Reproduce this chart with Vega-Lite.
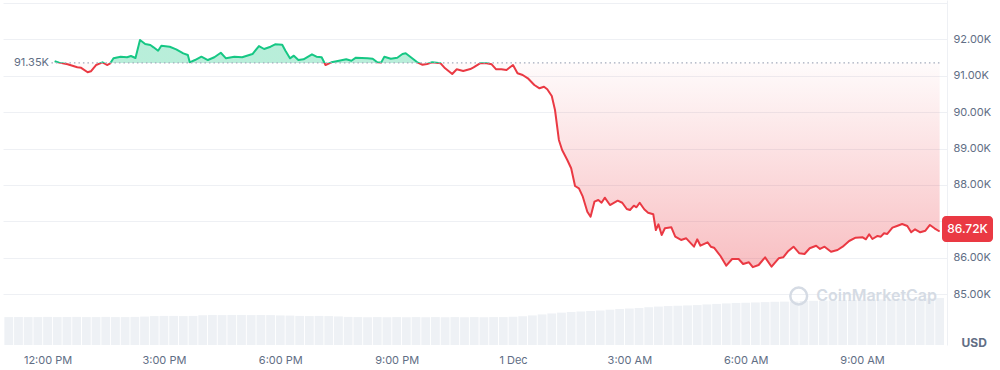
{
  "$schema": "https://vega.github.io/schema/vega-lite/v6.json",
  "width": 944,
  "height": 345,
  "autosize": {"type": "none"},
  "padding": {"left": 3, "top": 0, "right": 53, "bottom": 25},
  "background": "white",
  "config": {"view": {"stroke": null}, "font": "Inter"},
  "datasets": {
    "price": [
      {"t": "2025-11-30T12:11:00", "p": 91400}, {"t": "2025-11-30T12:18:00", "p": 91360}, {"t": "2025-11-30T12:31:00", "p": 91313},
      {"t": "2025-11-30T12:46:00", "p": 91231}, {"t": "2025-11-30T12:52:00", "p": 91216}, {"t": "2025-11-30T13:02:00", "p": 91094},
      {"t": "2025-11-30T13:07:00", "p": 91121}, {"t": "2025-11-30T13:15:00", "p": 91294}, {"t": "2025-11-30T13:25:00", "p": 91368},
      {"t": "2025-11-30T13:32:00", "p": 91294}, {"t": "2025-11-30T13:37:00", "p": 91341}, {"t": "2025-11-30T13:42:00", "p": 91478},
      {"t": "2025-11-30T13:53:00", "p": 91522}, {"t": "2025-11-30T14:03:00", "p": 91506}, {"t": "2025-11-30T14:09:00", "p": 91541},
      {"t": "2025-11-30T14:16:00", "p": 91486}, {"t": "2025-11-30T14:23:00", "p": 91980}, {"t": "2025-11-30T14:31:00", "p": 91871},
      {"t": "2025-11-30T14:39:00", "p": 91843}, {"t": "2025-11-30T14:44:00", "p": 91780}, {"t": "2025-11-30T14:51:00", "p": 91687},
      {"t": "2025-11-30T14:56:00", "p": 91824}, {"t": "2025-11-30T15:09:00", "p": 91797}, {"t": "2025-11-30T15:19:00", "p": 91725},
      {"t": "2025-11-30T15:30:00", "p": 91615}, {"t": "2025-11-30T15:37:00", "p": 91569}, {"t": "2025-11-30T15:40:00", "p": 91368},
      {"t": "2025-11-30T15:48:00", "p": 91431}, {"t": "2025-11-30T15:58:00", "p": 91522}, {"t": "2025-11-30T16:08:00", "p": 91431},
      {"t": "2025-11-30T16:18:00", "p": 91506}, {"t": "2025-11-30T16:28:00", "p": 91632}, {"t": "2025-11-30T16:36:00", "p": 91478},
      {"t": "2025-11-30T16:49:00", "p": 91522}, {"t": "2025-11-30T17:01:00", "p": 91506}, {"t": "2025-11-30T17:17:00", "p": 91596},
      {"t": "2025-11-30T17:27:00", "p": 91816}, {"t": "2025-11-30T17:35:00", "p": 91734}, {"t": "2025-11-30T17:45:00", "p": 91797},
      {"t": "2025-11-30T17:52:00", "p": 91863}, {"t": "2025-11-30T18:03:00", "p": 91852}, {"t": "2025-11-30T18:08:00", "p": 91687},
      {"t": "2025-11-30T18:15:00", "p": 91478}, {"t": "2025-11-30T18:21:00", "p": 91550}, {"t": "2025-11-30T18:28:00", "p": 91431},
      {"t": "2025-11-30T18:36:00", "p": 91451}, {"t": "2025-11-30T18:49:00", "p": 91588}, {"t": "2025-11-30T18:56:00", "p": 91522},
      {"t": "2025-11-30T19:04:00", "p": 91506}, {"t": "2025-11-30T19:10:00", "p": 91294}, {"t": "2025-11-30T19:19:00", "p": 91368},
      {"t": "2025-11-30T19:29:00", "p": 91404}, {"t": "2025-11-30T19:42:00", "p": 91451}, {"t": "2025-11-30T19:50:00", "p": 91412},
      {"t": "2025-11-30T19:57:00", "p": 91495}, {"t": "2025-11-30T20:15:00", "p": 91478}, {"t": "2025-11-30T20:23:00", "p": 91467},
      {"t": "2025-11-30T20:30:00", "p": 91368}, {"t": "2025-11-30T20:36:00", "p": 91360}, {"t": "2025-11-30T20:41:00", "p": 91522},
      {"t": "2025-11-30T20:51:00", "p": 91467}, {"t": "2025-11-30T21:01:00", "p": 91495}, {"t": "2025-11-30T21:09:00", "p": 91596},
      {"t": "2025-11-30T21:14:00", "p": 91615}, {"t": "2025-11-30T21:22:00", "p": 91506}, {"t": "2025-11-30T21:32:00", "p": 91368},
      {"t": "2025-11-30T21:40:00", "p": 91302}, {"t": "2025-11-30T21:47:00", "p": 91321}, {"t": "2025-11-30T21:55:00", "p": 91368},
      {"t": "2025-11-30T22:08:00", "p": 91341}, {"t": "2025-11-30T22:15:00", "p": 91203}, {"t": "2025-11-30T22:26:00", "p": 91047},
      {"t": "2025-11-30T22:33:00", "p": 91176}, {"t": "2025-11-30T22:43:00", "p": 91129}, {"t": "2025-11-30T22:54:00", "p": 91184},
      {"t": "2025-11-30T22:59:00", "p": 91231}, {"t": "2025-11-30T23:09:00", "p": 91341}, {"t": "2025-11-30T23:19:00", "p": 91341},
      {"t": "2025-11-30T23:27:00", "p": 91313}, {"t": "2025-11-30T23:34:00", "p": 91176}, {"t": "2025-11-30T23:42:00", "p": 91176},
      {"t": "2025-11-30T23:50:00", "p": 91157}, {"t": "2025-12-01T00:00:00", "p": 91294}, {"t": "2025-12-01T00:07:00", "p": 91066},
      {"t": "2025-12-01T00:15:00", "p": 91019}, {"t": "2025-12-01T00:23:00", "p": 90929}, {"t": "2025-12-01T00:33:00", "p": 90745},
      {"t": "2025-12-01T00:41:00", "p": 90654}, {"t": "2025-12-01T00:48:00", "p": 90698}, {"t": "2025-12-01T00:53:00", "p": 90627},
      {"t": "2025-12-01T01:00:00", "p": 90442}, {"t": "2025-12-01T01:05:00", "p": 90058}, {"t": "2025-12-01T01:11:00", "p": 89234},
      {"t": "2025-12-01T01:16:00", "p": 88959}, {"t": "2025-12-01T01:24:00", "p": 88685}, {"t": "2025-12-01T01:30:00", "p": 88457},
      {"t": "2025-12-01T01:36:00", "p": 87970}, {"t": "2025-12-01T01:42:00", "p": 87907}, {"t": "2025-12-01T01:48:00", "p": 87676},
      {"t": "2025-12-01T01:55:00", "p": 87264}, {"t": "2025-12-01T02:00:00", "p": 87127}, {"t": "2025-12-01T02:06:00", "p": 87539},
      {"t": "2025-12-01T02:12:00", "p": 87586}, {"t": "2025-12-01T02:17:00", "p": 87511}, {"t": "2025-12-01T02:22:00", "p": 87649},
      {"t": "2025-12-01T02:30:00", "p": 87448}, {"t": "2025-12-01T02:42:00", "p": 87566}, {"t": "2025-12-01T02:49:00", "p": 87511},
      {"t": "2025-12-01T02:56:00", "p": 87338}, {"t": "2025-12-01T03:01:00", "p": 87311}, {"t": "2025-12-01T03:07:00", "p": 87429},
      {"t": "2025-12-01T03:11:00", "p": 87385}, {"t": "2025-12-01T03:16:00", "p": 87511}, {"t": "2025-12-01T03:23:00", "p": 87330},
      {"t": "2025-12-01T03:29:00", "p": 87237}, {"t": "2025-12-01T03:37:00", "p": 87193}, {"t": "2025-12-01T03:41:00", "p": 86761},
      {"t": "2025-12-01T03:45:00", "p": 86918}, {"t": "2025-12-01T03:50:00", "p": 86624}, {"t": "2025-12-01T03:55:00", "p": 86808},
      {"t": "2025-12-01T04:05:00", "p": 86836}, {"t": "2025-12-01T04:11:00", "p": 86577}, {"t": "2025-12-01T04:20:00", "p": 86487},
      {"t": "2025-12-01T04:28:00", "p": 86533}, {"t": "2025-12-01T04:40:00", "p": 86303}, {"t": "2025-12-01T04:45:00", "p": 86506},
      {"t": "2025-12-01T04:50:00", "p": 86330}, {"t": "2025-12-01T05:01:00", "p": 86424}, {"t": "2025-12-01T05:06:00", "p": 86303},
      {"t": "2025-12-01T05:11:00", "p": 86275}, {"t": "2025-12-01T05:21:00", "p": 86047}, {"t": "2025-12-01T05:30:00", "p": 85781},
      {"t": "2025-12-01T05:39:00", "p": 85965}, {"t": "2025-12-01T05:49:00", "p": 85965}, {"t": "2025-12-01T05:56:00", "p": 85827},
      {"t": "2025-12-01T06:05:00", "p": 85874}, {"t": "2025-12-01T06:11:00", "p": 85740}, {"t": "2025-12-01T06:20:00", "p": 85800},
      {"t": "2025-12-01T06:30:00", "p": 86011}, {"t": "2025-12-01T06:40:00", "p": 85753}, {"t": "2025-12-01T06:51:00", "p": 85984},
      {"t": "2025-12-01T06:58:00", "p": 86011}, {"t": "2025-12-01T07:06:00", "p": 86185}, {"t": "2025-12-01T07:14:00", "p": 86303},
      {"t": "2025-12-01T07:23:00", "p": 86121}, {"t": "2025-12-01T07:31:00", "p": 86102}, {"t": "2025-12-01T07:39:00", "p": 86259},
      {"t": "2025-12-01T07:49:00", "p": 86330}, {"t": "2025-12-01T07:55:00", "p": 86240}, {"t": "2025-12-01T08:02:00", "p": 86303},
      {"t": "2025-12-01T08:12:00", "p": 86165}, {"t": "2025-12-01T08:22:00", "p": 86212}, {"t": "2025-12-01T08:30:00", "p": 86303},
      {"t": "2025-12-01T08:40:00", "p": 86459}, {"t": "2025-12-01T08:50:00", "p": 86550}, {"t": "2025-12-01T09:01:00", "p": 86561},
      {"t": "2025-12-01T09:06:00", "p": 86506}, {"t": "2025-12-01T09:11:00", "p": 86643}, {"t": "2025-12-01T09:16:00", "p": 86514},
      {"t": "2025-12-01T09:24:00", "p": 86597}, {"t": "2025-12-01T09:29:00", "p": 86578}, {"t": "2025-12-01T09:34:00", "p": 86671},
      {"t": "2025-12-01T09:39:00", "p": 86652}, {"t": "2025-12-01T09:47:00", "p": 86825}, {"t": "2025-12-01T09:54:00", "p": 86871},
      {"t": "2025-12-01T10:02:00", "p": 86926}, {"t": "2025-12-01T10:10:00", "p": 86871}, {"t": "2025-12-01T10:16:00", "p": 86698},
      {"t": "2025-12-01T10:22:00", "p": 86781}, {"t": "2025-12-01T10:30:00", "p": 86698}, {"t": "2025-12-01T10:38:00", "p": 86742},
      {"t": "2025-12-01T10:45:00", "p": 86899}, {"t": "2025-12-01T10:52:00", "p": 86808}, {"t": "2025-12-01T11:00:00", "p": 86720}
    ],
    "vol": [
      {"t": "2025-11-30T11:00:00", "v": 17.0}, {"t": "2025-11-30T11:15:00", "v": 17.1}, {"t": "2025-11-30T11:30:00", "v": 17.0},
      {"t": "2025-11-30T11:45:00", "v": 17.0}, {"t": "2025-11-30T12:00:00", "v": 17.1}, {"t": "2025-11-30T12:15:00", "v": 17.0},
      {"t": "2025-11-30T12:30:00", "v": 17.0}, {"t": "2025-11-30T12:45:00", "v": 17.1}, {"t": "2025-11-30T13:00:00", "v": 17.0},
      {"t": "2025-11-30T13:15:00", "v": 17.0}, {"t": "2025-11-30T13:30:00", "v": 17.1}, {"t": "2025-11-30T13:45:00", "v": 17.0},
      {"t": "2025-11-30T14:00:00", "v": 17.0}, {"t": "2025-11-30T14:15:00", "v": 17.1}, {"t": "2025-11-30T14:30:00", "v": 17.3},
      {"t": "2025-11-30T14:45:00", "v": 17.6}, {"t": "2025-11-30T15:00:00", "v": 17.7}, {"t": "2025-11-30T15:15:00", "v": 17.7},
      {"t": "2025-11-30T15:30:00", "v": 17.6}, {"t": "2025-11-30T15:45:00", "v": 17.7}, {"t": "2025-11-30T16:00:00", "v": 18.1},
      {"t": "2025-11-30T16:15:00", "v": 18.3}, {"t": "2025-11-30T16:30:00", "v": 18.2}, {"t": "2025-11-30T16:45:00", "v": 18.3},
      {"t": "2025-11-30T17:00:00", "v": 18.3}, {"t": "2025-11-30T17:15:00", "v": 18.2}, {"t": "2025-11-30T17:30:00", "v": 18.3},
      {"t": "2025-11-30T17:45:00", "v": 18.2}, {"t": "2025-11-30T18:00:00", "v": 18.0}, {"t": "2025-11-30T18:15:00", "v": 17.9},
      {"t": "2025-11-30T18:30:00", "v": 17.7}, {"t": "2025-11-30T18:45:00", "v": 17.6}, {"t": "2025-11-30T19:00:00", "v": 17.7},
      {"t": "2025-11-30T19:15:00", "v": 17.6}, {"t": "2025-11-30T19:30:00", "v": 17.4}, {"t": "2025-11-30T19:45:00", "v": 17.1},
      {"t": "2025-11-30T20:00:00", "v": 17.0}, {"t": "2025-11-30T20:15:00", "v": 16.9}, {"t": "2025-11-30T20:30:00", "v": 17.0},
      {"t": "2025-11-30T20:45:00", "v": 16.9}, {"t": "2025-11-30T21:00:00", "v": 17.0}, {"t": "2025-11-30T21:15:00", "v": 16.9},
      {"t": "2025-11-30T21:30:00", "v": 17.0}, {"t": "2025-11-30T21:45:00", "v": 16.9}, {"t": "2025-11-30T22:00:00", "v": 17.0},
      {"t": "2025-11-30T22:15:00", "v": 16.9}, {"t": "2025-11-30T22:30:00", "v": 17.0}, {"t": "2025-11-30T22:45:00", "v": 16.9},
      {"t": "2025-11-30T23:00:00", "v": 17.0}, {"t": "2025-11-30T23:15:00", "v": 16.9}, {"t": "2025-11-30T23:30:00", "v": 17.0},
      {"t": "2025-11-30T23:45:00", "v": 17.0}, {"t": "2025-12-01T00:00:00", "v": 17.2}, {"t": "2025-12-01T00:15:00", "v": 17.5},
      {"t": "2025-12-01T00:30:00", "v": 18.0}, {"t": "2025-12-01T00:45:00", "v": 18.6}, {"t": "2025-12-01T01:00:00", "v": 19.2},
      {"t": "2025-12-01T01:15:00", "v": 19.7}, {"t": "2025-12-01T01:30:00", "v": 20.1}, {"t": "2025-12-01T01:45:00", "v": 20.4},
      {"t": "2025-12-01T02:00:00", "v": 20.7}, {"t": "2025-12-01T02:15:00", "v": 21.0}, {"t": "2025-12-01T02:30:00", "v": 21.5},
      {"t": "2025-12-01T02:45:00", "v": 21.9}, {"t": "2025-12-01T03:00:00", "v": 22.2}, {"t": "2025-12-01T03:15:00", "v": 22.5},
      {"t": "2025-12-01T03:30:00", "v": 23.0}, {"t": "2025-12-01T03:45:00", "v": 23.4}, {"t": "2025-12-01T04:00:00", "v": 23.7},
      {"t": "2025-12-01T04:15:00", "v": 23.9}, {"t": "2025-12-01T04:30:00", "v": 24.1}, {"t": "2025-12-01T04:45:00", "v": 24.3},
      {"t": "2025-12-01T05:00:00", "v": 24.7}, {"t": "2025-12-01T05:15:00", "v": 25.0}, {"t": "2025-12-01T05:30:00", "v": 25.3},
      {"t": "2025-12-01T05:45:00", "v": 25.6}, {"t": "2025-12-01T06:00:00", "v": 25.7}, {"t": "2025-12-01T06:15:00", "v": 25.9},
      {"t": "2025-12-01T06:30:00", "v": 26.1}, {"t": "2025-12-01T06:45:00", "v": 26.3}, {"t": "2025-12-01T07:00:00", "v": 26.4},
      {"t": "2025-12-01T07:15:00", "v": 26.5}, {"t": "2025-12-01T07:30:00", "v": 26.8}, {"t": "2025-12-01T07:45:00", "v": 26.9},
      {"t": "2025-12-01T08:00:00", "v": 27.0}, {"t": "2025-12-01T08:15:00", "v": 27.1}, {"t": "2025-12-01T08:30:00", "v": 27.3},
      {"t": "2025-12-01T08:45:00", "v": 27.4}, {"t": "2025-12-01T09:00:00", "v": 27.6}, {"t": "2025-12-01T09:15:00", "v": 27.7},
      {"t": "2025-12-01T09:30:00", "v": 27.8}, {"t": "2025-12-01T09:45:00", "v": 27.9}, {"t": "2025-12-01T10:00:00", "v": 28.0},
      {"t": "2025-12-01T10:15:00", "v": 28.1}, {"t": "2025-12-01T10:30:00", "v": 28.2}, {"t": "2025-12-01T10:45:00", "v": 28.4},
      {"t": "2025-12-01T11:00:00", "v": 28.6}
    ]
  },
  "layer": [
    {
      "data": {"name": "vol"},
      "mark": {"type": "bar", "width": 8.8, "color": "#eef1f5"},
      "encoding": {
        "x": {
          "field": "t", "type": "temporal",
          "scale": {"domain": [{"year": 2025, "month": "Nov", "date": 30, "hours": 10, "minutes": 58, "seconds": 48}, {"year": 2025, "month": "Dec", "date": 1, "hours": 11, "minutes": 3, "seconds": 40}]},
          "axis": {
            "values": [
              {"year": 2025, "month": "Nov", "date": 30, "hours": 12}, {"year": 2025, "month": "Nov", "date": 30, "hours": 15},
              {"year": 2025, "month": "Nov", "date": 30, "hours": 18}, {"year": 2025, "month": "Nov", "date": 30, "hours": 21},
              {"year": 2025, "month": "Dec", "date": 1, "hours": 0}, {"year": 2025, "month": "Dec", "date": 1, "hours": 3},
              {"year": 2025, "month": "Dec", "date": 1, "hours": 6}, {"year": 2025, "month": "Dec", "date": 1, "hours": 9}
            ],
            "labelExpr": "hours(datum.value) === 0 ? '1 Dec' : timeFormat(datum.value, '%-I:%M %p')",
            "title": null, "domain": false, "ticks": false, "grid": false,
            "labelFontSize": 11, "labelColor": "#616e85", "labelPadding": 9, "labelFont": "Inter"
          }
        },
        "y": {"field": "v", "type": "quantitative", "scale": {"domain": [0, 210], "nice": false, "zero": true}, "axis": null}
      }
    },
    {
      "layer": [
        {
          "data": {"name": "price"},
          "mark": {
            "type": "area",
            "fill": {"gradient": "linear", "x1": 0, "y1": 0, "x2": 0, "y2": 1, "stops": [
              {"offset": 0, "color": "rgba(22,199,132,0.3)"},
              {"offset": 0.101, "color": "rgba(22,199,132,0.3)"},
              {"offset": 0.101, "color": "rgba(234,57,67,0.02)"},
              {"offset": 1, "color": "rgba(234,57,67,0.32)"}
            ]}
          },
          "encoding": {
            "x": {"field": "t", "type": "temporal", "title": null},
            "y": {
              "field": "p", "type": "quantitative",
              "scale": {"domain": [83602, 93080], "nice": false, "zero": false},
              "axis": {
                "orient": "right",
                "values": [85000, 86000, 87000, 88000, 89000, 90000, 91000, 92000, 93000],
                "labelExpr": "datum.value > 92500 ? '' : format(datum.value / 1000, '.2f') + 'K'",
                "grid": true, "gridColor": "#eef0f4", "gridWidth": 1,
                "ticks": false, "domain": true, "domainColor": "#eef0f4",
                "labelFontSize": 11, "labelColor": "#616e85", "labelPadding": 6, "labelFont": "Inter",
                "title": "USD", "titleAngle": 0, "titleX": 14, "titleY": 342, "titleAlign": "left", "titleBaseline": "middle",
                "titleFontSize": 12, "titleFontWeight": "bold", "titleColor": "#616e85", "titleFont": "Inter"
              }
            },
            "y2": {"datum": 91350}
          }
        },
        {
          "data": {"name": "price"},
          "mark": {
            "type": "line", "strokeWidth": 2, "strokeJoin": "round",
            "stroke": {"gradient": "linear", "x1": 0, "y1": 0, "x2": 0, "y2": 1, "stops": [
              {"offset": 0, "color": "#16c784"},
              {"offset": 0.101, "color": "#16c784"},
              {"offset": 0.101, "color": "#ea3943"},
              {"offset": 1, "color": "#ea3943"}
            ]}
          },
          "encoding": {
            "x": {"field": "t", "type": "temporal"},
            "y": {"field": "p", "type": "quantitative"}
          }
        },
        {
          "data": {"values": [{}]},
          "mark": {"type": "rule", "stroke": "#a3aabb", "strokeDash": [1.5, 3], "strokeWidth": 1.2},
          "encoding": {
            "x": {"datum": {"year": 2025, "month": "Nov", "date": 30, "hours": 12, "minutes": 6}, "type": "temporal"},
            "x2": {"datum": {"year": 2025, "month": "Dec", "date": 1, "hours": 11, "minutes": 3, "seconds": 40}},
            "y": {"datum": 91350, "type": "quantitative"}
          }
        },
        {
          "data": {"values": [{}]},
          "mark": {"type": "text", "align": "left", "baseline": "middle", "fontSize": 11, "color": "#616e85", "font": "Inter"},
          "encoding": {
            "x": {"datum": {"year": 2025, "month": "Nov", "date": 30, "hours": 11, "minutes": 8}, "type": "temporal"},
            "y": {"datum": 91350, "type": "quantitative"},
            "text": {"value": "91.35K"}
          }
        },
        {
          "data": {"values": [{}]},
          "mark": {"type": "point", "shape": "circle", "size": 283, "filled": false, "stroke": "#d5dbe4", "strokeWidth": 2.5, "opacity": 1},
          "encoding": {
            "x": {"datum": {"year": 2025, "month": "Dec", "date": 1, "hours": 7, "minutes": 22}, "type": "temporal"},
            "y": {"datum": 84948, "type": "quantitative"}
          }
        },
        {
          "data": {"values": [{}]},
          "mark": {"type": "text", "align": "left", "baseline": "middle", "fontSize": 16, "fontWeight": 600, "color": "#d5dbe4", "font": "Inter"},
          "encoding": {
            "x": {"datum": {"year": 2025, "month": "Dec", "date": 1, "hours": 7, "minutes": 49}, "type": "temporal"},
            "y": {"datum": 84948, "type": "quantitative"},
            "text": {"value": "CoinMarketCap"}
          }
        },
        {
          "data": {"values": [{}]},
          "mark": {"type": "rect", "width": 51, "height": 26, "cornerRadius": 4, "color": "#ea3943", "xOffset": 25.5, "yOffset": -2.5},
          "encoding": {
            "x": {"datum": {"year": 2025, "month": "Dec", "date": 1, "hours": 11, "minutes": 3, "seconds": 40}, "type": "temporal"},
            "y": {"datum": 86720, "type": "quantitative"}
          }
        },
        {
          "data": {"values": [{}]},
          "mark": {"type": "text", "align": "center", "baseline": "middle", "fontSize": 12, "fontWeight": 500, "color": "white", "font": "Inter", "dx": 25.5, "dy": -2.5},
          "encoding": {
            "x": {"datum": {"year": 2025, "month": "Dec", "date": 1, "hours": 11, "minutes": 3, "seconds": 40}, "type": "temporal"},
            "y": {"datum": 86720, "type": "quantitative"},
            "text": {"value": "86.72K"}
          }
        }
      ]
    }
  ],
  "resolve": {"scale": {"y": "independent"}}
}
